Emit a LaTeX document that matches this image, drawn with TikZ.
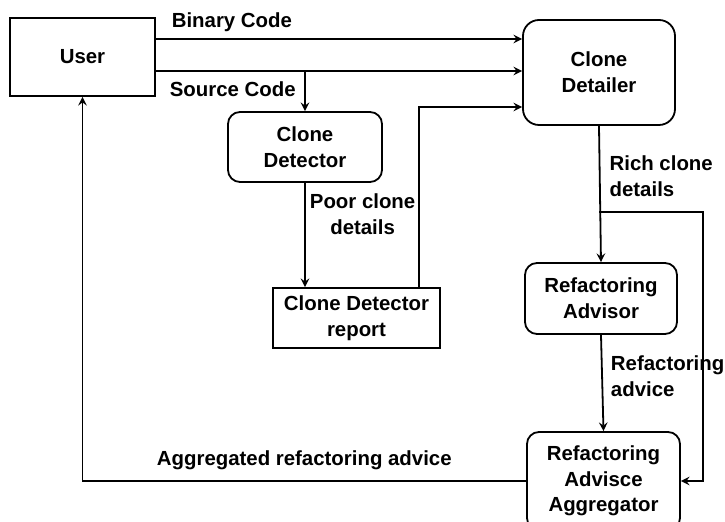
\documentclass[tikz,border=0pt]{standalone}
\usepackage{fontspec}
\setmainfont{Liberation Sans}
\usetikzlibrary{arrows, positioning, calc}

\begin{document}
\begin{tikzpicture}[
    x=0.5pt, y=-0.5pt,
    font=\fontsize{10.2}{12.8}\selectfont\bfseries,
    plainbox/.style={rectangle, draw, line width=0.9pt, align=center, inner sep=2pt},
    roundbox/.style={plainbox, rounded corners=6pt},
    lbl/.style={align=left, inner sep=0pt},
    arrow/.style={->, line width=0.9pt, >=stealth}
]
\useasboundingbox (0,0) rectangle (725,522);

% User
\node[plainbox, minimum width=72.5pt, minimum height=39pt] (user) at (82.5,57) {User};

% Detailer
\node[roundbox, rounded corners=8pt, minimum width=76pt, minimum height=52.5pt] (detailer) at (599,72.5) {Clone\\Detailer};

% Detector
\node[roundbox, minimum width=77pt, minimum height=35pt] (detector) at (305,147) {Clone\\Detector};
\node[plainbox, minimum width=83.5pt, minimum height=30pt] (report) at (356.5,318) {Clone Detector\\report};

% Advisor
\node[roundbox, minimum width=76pt, minimum height=35.5pt] (advisor) at (601,298.5) {Refactoring\\Advisor};
\node[roundbox, minimum width=76.5pt, minimum height=49pt] (aggregator) at (603.5,481) {Refactoring\\Advisce\\Aggregator};

\coordinate (split) at (detailer.south |- 0,212);
\coordinate (bend) at (703,212);

% Arrows
\draw[arrow] (user.east |- 0,39) -- node[lbl, pos=0, anchor=south west, xshift=7.5pt, yshift=3pt] {Binary Code} (detailer.west |- 0,39);
\draw[arrow] (user.east |- 0,71) -- node[lbl, pos=0, anchor=north west, xshift=6.5pt, yshift=-5pt] {Source Code} (detailer.west |- 0,71);
\draw[arrow] (detector.north |- 0,71) -- (detector.north);
\draw[arrow] (detector.south) -- node[lbl, align=center, pos=0.3, anchor=west, xshift=2pt] {Poor clone\\details} (detector.south |- report.north);
\draw[arrow] (report.north -| 419,0) |- (detailer.west |- 0,107);
\draw[arrow] (detailer.south) -- node[lbl, pos=0.37, anchor=west, xshift=4.5pt] {Rich clone\\details} (advisor.north);
\draw[arrow] (split) -- (bend) |- (aggregator.east);
\draw[arrow] (advisor.south) -- node[lbl, pos=0.43, anchor=west, xshift=4pt] {Refactoring\\advice} (aggregator.north);
\draw[arrow] (aggregator.west) -| node[lbl, pos=0.25, anchor=south, yshift=5pt] {Aggregated refactoring advice} (user.south);

\end{tikzpicture}
\end{document}
